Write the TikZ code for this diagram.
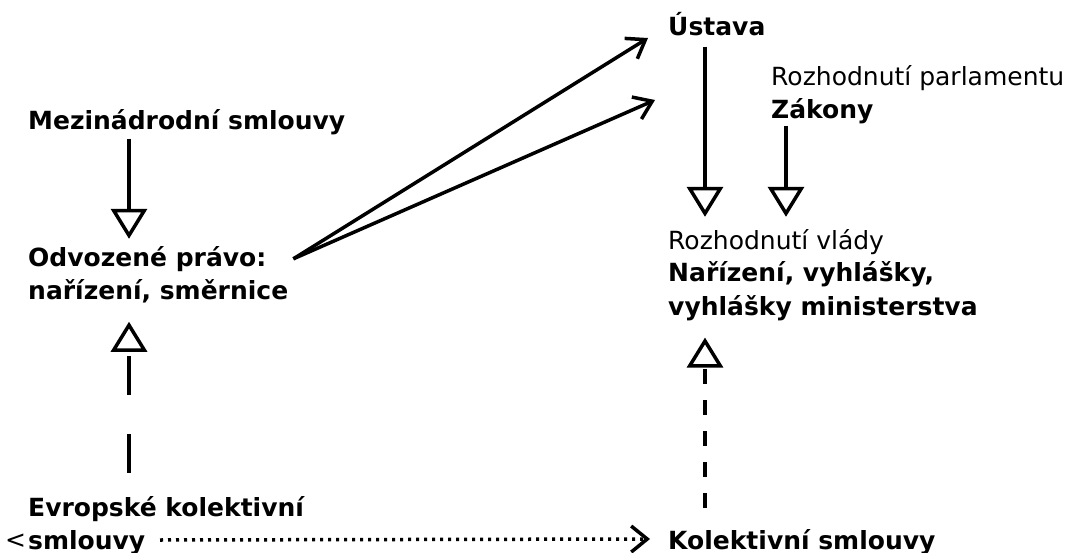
\documentclass[tikz,border=0pt]{standalone}
\usepackage{fontspec}
\setmainfont{DejaVu Sans}
\usetikzlibrary{arrows.meta}

\begin{document}
\begin{tikzpicture}[x=1pt,y=-1pt]
         \tikzset{lbl/.style={anchor=base west,inner sep=0pt,align=left,
                  font=\fontsize{25}{33}\selectfont\bfseries}}
         \tikzset{note/.style={lbl,font=\fontsize{25}{33}\selectfont}}
         \tikzset{tri/.style={line width=3.5pt,-{Triangle[open,length=30pt,width=36pt]}}}
         \tikzset{barb/.style={line width=3.5pt,-{Straight Barb[length=17pt,width=24pt]}}}
         \useasboundingbox (0,0) rectangle (1073,553);
         % left column
         \node[lbl] (mez) at (28,130) {Mezinádrodní smlouvy};
         \node[lbl] (odv) at (28,299) {Odvozené právo:\\nařízení, směrnice};
         \node[lbl] (evr) at (28,549) {Evropské kolektivní\\smlouvy};
         \node[note] (lt) at (5,548) {<};
         % right column
         \node[lbl] (ust) at (668,36) {Ústava};
         \node[note] (parl) at (771,86) {Rozhodnutí parlamentu};
         \node[lbl] (zak) at (771,119) {Zákony};
         \node[lbl] (vla) at (668,315) {\mdseries Rozhodnutí vlády\\Nařízení, vyhlášky,\\vyhlášky ministerstva};
         \node[lbl] (kol) at (668,549) {Kolektivní smlouvy};
         \coordinate (dot) at (160,540);
         % connectors
         \draw[tri] ([xshift=101pt,yshift=-3pt]mez.south west) -- ([xshift=101pt,yshift=7pt]odv.north west);
         \draw[tri,dash pattern=on 39pt off 39pt] ([xshift=101pt,yshift=23pt]evr.north west) -- ([xshift=101pt,yshift=-19pt]odv.south west);
         \draw[tri] ([xshift=37pt,yshift=-10pt]ust.south west) -- ([xshift=37pt,yshift=12pt]vla.north west);
         \draw[tri] ([xshift=15pt,yshift=-1pt]zak.south west) -- ([xshift=118pt,yshift=12pt]vla.north west);
         \draw[tri,dash pattern=on 15pt off 16pt] ([xshift=37pt,yshift=21pt]kol.north west) -- ([xshift=37pt,yshift=-17pt]vla.south west);
         \draw[barb] ([xshift=5pt,yshift=-13pt]odv.north east) -- ([xshift=-20pt,yshift=-2pt]ust.base west);
         \draw[barb] ([xshift=5pt,yshift=-13pt]odv.north east) -- ([xshift=-13pt,yshift=-64pt]ust.base west);
         \draw[line width=3.5pt,dash pattern=on 3pt off 5pt,-{Straight Barb[length=16pt,width=26pt]}] (dot) -- ([xshift=-18pt,yshift=10pt]kol.base west);
\end{tikzpicture}
\end{document}
